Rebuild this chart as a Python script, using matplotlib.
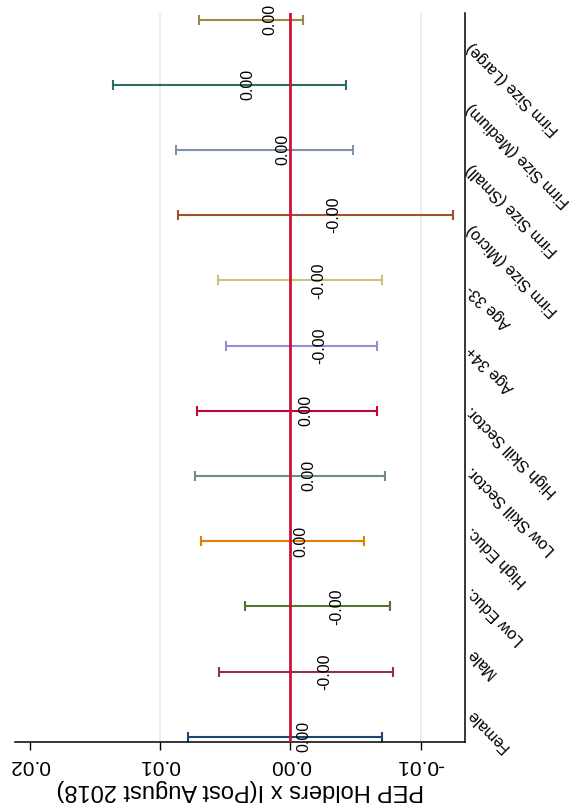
import matplotlib
matplotlib.use("Agg")
import matplotlib.pyplot as plt
import numpy as np

plt.rcParams['font.family'] = ['Liberation Sans', 'DejaVu Sans']

categories = ["Female", "Male", "Low Educ.", "High Educ.", "Low Skill Sector.",
              "High Skill Sector.", "Age 34+", "Age 33-", "Firm Size (Micro)",
              "Firm Size (Small)", "Firm Size (Medium)", "Firm Size (Large)"]
coef = [0.00041, -0.00122, -0.00209, 0.00061, 0.00002, 0.00026,
        -0.00085, -0.00077, -0.00193, 0.00197, 0.00466, 0.00303]
ci_low = [-0.00706, -0.00790, -0.00765, -0.00566, -0.00726, -0.00665,
          -0.00665, -0.00706, -0.01249, -0.00484, -0.00427, -0.00095]
ci_high = [0.00787, 0.00547, 0.00348, 0.00688, 0.00729, 0.00716,
           0.00496, 0.00553, 0.00864, 0.00877, 0.01358, 0.00700]
x_ticks = [0.02, 0.01, 0.00, -0.01]
x_title = "PEP Holders x I(Post August 2018)"

colors = ["#1a476f", "#90353b", "#55752f", "#e37e00", "#6e8e84", "#c10534",
          "#938dd2", "#cac27e", "#a0522d", "#7b92a8", "#2d6d66", "#9c8847"]

W, H = 579, 810
fig = plt.figure(figsize=(W / 100, H / 100), dpi=100)
left, right, top, bottom = 15, 465, 13, 742
ax = fig.add_axes([left / W, (H - bottom) / H, (right - left) / W, (bottom - top) / H])

pos = np.arange(1, len(categories) + 1)

# grid lines and zero line
for v in x_ticks:
    if v not in (0.0, 0.02):
        ax.axvline(v, color="#e4ecef", lw=1.2, zorder=0)
ax.axvline(0, color="#cc1239", lw=2, zorder=3)

for i, p in enumerate(pos):
    ax.errorbar(coef[i], p, xerr=[[coef[i] - ci_low[i]], [ci_high[i] - coef[i]]],
                fmt='none', ecolor=colors[i], elinewidth=1.5, capsize=3.3,
                capthick=1.5, zorder=2)
    ax.annotate(f"{coef[i]:.2f}", xy=(coef[i], p), xytext=(13.5, 0),
                textcoords="offset points", rotation=90, ha="center",
                va="center", fontsize=11.5, color="black", zorder=4)

ax.set_xlim(0.02113, -0.01341)
ax.set_ylim(0.919, 12.10)

ax.set_xticks(x_ticks)
ax.set_xticklabels([f"{v:.2f}" for v in x_ticks])
ax.tick_params(axis="x", direction="out", length=6, width=1, pad=4,
               labelsize=15, labelrotation=180)
ax.set_xlabel(x_title, fontsize=17, rotation=180, labelpad=3)

ax.yaxis.tick_right()
tick_pos = 1.394 + (pos - 1) * 0.929
ax.set_yticks(tick_pos)
ax.set_yticklabels(categories)
ax.tick_params(axis="y", length=0, pad=3, labelsize=11.5)
for lbl in ax.get_yticklabels():
    lbl.set_rotation(135)
    lbl.set_rotation_mode("anchor")
    lbl.set_ha("right")
    lbl.set_va("center")

for s in ["left", "top"]:
    ax.spines[s].set_visible(False)
for s in ["bottom", "right"]:
    ax.spines[s].set_linewidth(1.1)
    ax.spines[s].set_color("black")

fig.savefig("out.png", dpi=100, facecolor="white")
